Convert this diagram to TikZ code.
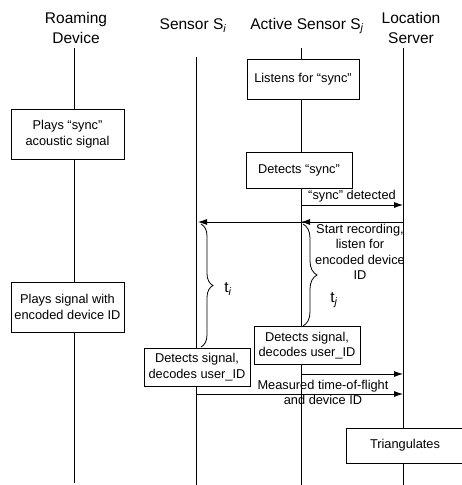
\documentclass[tikz,border=0pt]{standalone}
\usepackage{fontspec}
\setmainfont{Liberation Sans}
\usetikzlibrary{arrows.meta,decorations.pathreplacing}
\begin{document}
\begin{tikzpicture}[x=1pt,y=-1pt,
  box/.style={draw, line width=0.8pt, fill=white, align=center, inner sep=0pt,
    font=\fontsize{12.8}{15.5}\selectfont},
  hdr/.style={align=center, inner sep=0pt, font=\fontsize{15.5}{20}\selectfont},
  lbl/.style={align=center, inner sep=0pt, font=\fontsize{12.8}{15.5}\selectfont},
  tlbl/.style={inner sep=0pt, font=\fontsize{15.5}{18}\selectfont},
  life/.style={line width=0.8pt},
  msg/.style={line width=0.8pt, -{Latex[length=9pt,width=6pt]}},
  brc/.style={line width=0.8pt, decorate, decoration={brace, amplitude=#1, aspect=0.5}}]
\useasboundingbox (0,0) rectangle (462,485);

% headers
\node[hdr] (hrd) at (76,28) {Roaming\\Device};
\node[hdr] (hsi) at (193,26) {Sensor S\textsubscript{\itshape i}};
\node[hdr] (hsj) at (307,26) {Active Sensor S\textsubscript{\itshape j}};
\node[hdr] (hls) at (411,28) {Location\\Server};

% lifelines
\coordinate (rdT) at (74,48);  \coordinate (rdB) at (74,483);
\coordinate (siT) at (196,57); \coordinate (siB) at (196,485);
\coordinate (sjT) at (301,48); \coordinate (sjB) at (301,485);
\coordinate (lsT) at (403,48); \coordinate (lsB) at (403,485);
\draw[life] (rdT) -- (rdB);
\draw[life] (siT) -- (siB);
\draw[life] (sjT) -- (sjB);
\draw[life] (lsT) -- (lsB);

% boxes
\node[box, minimum width=112pt, minimum height=40pt] (listen) at (303,79) {Listens for “sync”};
\node[box, minimum width=113pt, minimum height=50pt] (plays1) at (67.5,134) {Plays “sync”\\acoustic signal};
\node[box, minimum width=106pt, minimum height=36pt] (detsync) at (299,170) {Detects “sync”};
\node[box, minimum width=113pt, minimum height=50pt] (plays2) at (67.5,307) {Plays signal with\\encoded device ID};
\node[box, minimum width=106pt, minimum height=38pt] (detj) at (307,345.5) {Detects signal,\\decodes user\_ID};
\node[box, minimum width=106pt, minimum height=38pt] (deti) at (197,367) {Detects signal,\\decodes user\_ID};
\node[box, minimum width=118pt, minimum height=35pt] (tri) at (405,445.5) {Triangulates};

% message 1
\coordinate (m1s) at (301,205); \coordinate (m1e) at (403,205);
\draw[msg] (m1s) -- (m1e);
\node[lbl] (l1) at (352,196) {“sync” detected};

% message 2
\coordinate (m2s) at (403,222); \coordinate (m2a) at (301,222); \coordinate (m2e) at (198,222);
\draw[msg] (m2s) -- (m2e);
\draw[msg] (m2s) -- (m2a);
\node[lbl] (l2) at (360,252) {Start recording,\\listen for\\encoded device\\ID};

% braces
\coordinate (bi1) at (201,224); \coordinate (bi2) at (201,347);
\draw[brc=12pt] (bi1) -- (bi2);
\node[tlbl] (ti) at (228,289) {t\textsubscript{\itshape i}};
\coordinate (bj1) at (303,224); \coordinate (bj2) at (303,326);
\draw[brc=14pt] (bj1) -- (bj2);
\node[tlbl] (tj) at (334,300) {t\textsubscript{\itshape j}};

% messages 3 and 4
\coordinate (m3s) at (301,374); \coordinate (m3e) at (403,374);
\draw[msg] (m3s) -- (m3e);
\coordinate (m4s) at (196,394); \coordinate (m4e) at (403,394);
\draw[msg] (m4s) -- (m4e);
\node[lbl] (l4) at (323,392.5) {Measured time-of-flight\\and device ID};
\end{tikzpicture}
\end{document}
